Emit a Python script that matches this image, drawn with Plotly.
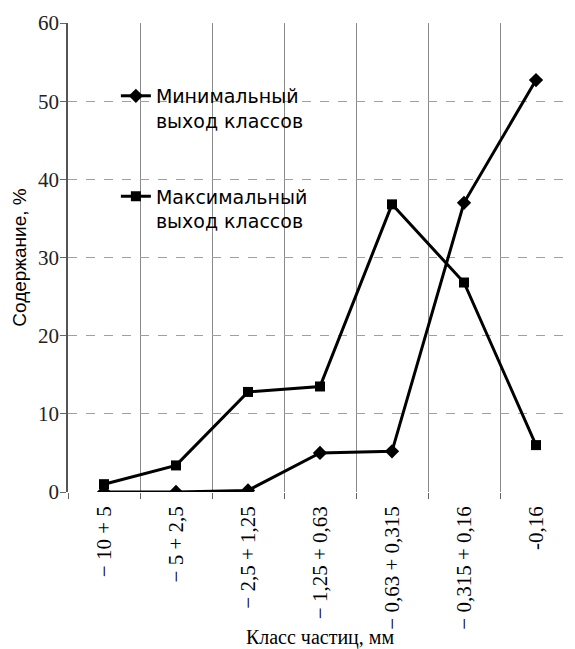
import plotly.graph_objects as go

categories = ["− 10 + 5", "− 5 + 2,5", "− 2,5 + 1,25", "− 1,25 + 0,63",
              "− 0,63 + 0,315", "− 0,315 + 0,16", "-0,16"]
min_yield = [0, 0, 0.2, 5.0, 5.2, 37.0, 52.7]
max_yield = [1.0, 3.4, 12.8, 13.5, 36.8, 26.8, 6.0]
y_ticks = [0, 10, 20, 30, 40, 50, 60]

serif = "Liberation Serif"
sans = "DejaVu Sans"

fig = go.Figure()
fig.add_trace(go.Scatter(
    x=categories, y=min_yield, mode="lines+markers",
    name="Минимальный<br>выход классов",
    line=dict(color="black", width=3),
    marker=dict(symbol="diamond", size=11, color="black"),
    legend="legend",
))
fig.add_trace(go.Scatter(
    x=categories, y=max_yield, mode="lines+markers",
    name="Максимальный<br>выход классов",
    line=dict(color="black", width=3),
    marker=dict(symbol="square", size=10, color="black"),
    legend="legend2",
))

# page body has an 8px default margin, so the figure is sized to fit
fig.update_layout(
    width=567, height=641,
    margin=dict(l=60, r=3, t=15, b=157, autoexpand=False),
    plot_bgcolor="white", paper_bgcolor="white",
    showlegend=True,
    legend=dict(x=0.095, y=0.885, xanchor="left", yanchor="top",
                bgcolor="rgba(0,0,0,0)", valign="top",
                font=dict(family=sans, size=19, color="black")),
    legend2=dict(x=0.095, y=0.671, xanchor="left", yanchor="top",
                 bgcolor="rgba(0,0,0,0)", valign="top",
                 font=dict(family=sans, size=19, color="black")),
    xaxis=dict(
        type="category", tickson="boundaries", range=[-0.5, 6.5],
        automargin=True,
        showgrid=True, gridcolor="#8a8a8a", gridwidth=1,
        ticks="outside", ticklen=6, tickcolor="#666",
        tickangle=-90, showline=False, ticklabelstandoff=9,
        tickfont=dict(family=serif, size=21, color="black"),
        title=dict(text="Класс частиц, мм", standoff=2,
                   font=dict(family=serif, size=20, color="black")),
    ),
    yaxis=dict(
        range=[0, 60], tickvals=y_ticks, showgrid=True, automargin=False,
        gridcolor="#a0a0a0", gridwidth=1, griddash="dash",
        zeroline=False, showline=True, linecolor="#555", linewidth=1.5,
        ticks="outside", ticklen=6, tickcolor="#666", ticklabelstandoff=-3,
        tickfont=dict(family=serif, size=21, color="#222"),
        title=dict(text="Содержание, %", standoff=6,
                   font=dict(family="Liberation Sans", size=19, color="black")),
    ),
)

fig.write_html("out.html")
